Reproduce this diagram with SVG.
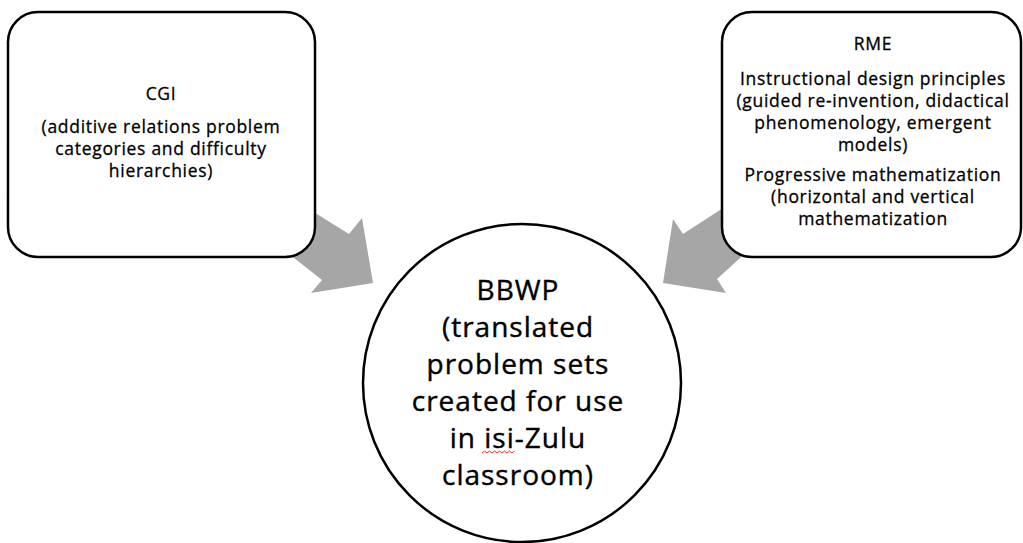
<svg xmlns="http://www.w3.org/2000/svg" width="1023" height="543" viewBox="0 0 1023 543">
  <style>
    .box { fill: #ffffff; stroke: #000000; stroke-width: 2.5; }
    .arrow { fill: #a6a6a6; stroke: none; }
    .txt { font-family: "Open Sans", "Noto Sans", "Liberation Sans", sans-serif; fill: #000000; stroke: #000000; stroke-width: 0.3; text-anchor: middle; }
    .small { font-size: 17.5px; letter-spacing: 0.7px; }
    .big { font-size: 28px; letter-spacing: 1px; stroke-width: 0.4; }
  </style>
  <rect width="1023" height="543" fill="#ffffff"/>

  <!-- block arrows into the central circle -->
  <g id="connectors">
    <polygon class="arrow" points="280,191 349,234 362,218 373,283 311,293 322,280 270,239"/>
    <polygon class="arrow" points="760,184 683,234 673,219 663,283 726,293 717,279 760,240"/>
  </g>

  <!-- CGI -->
  <g id="node-cgi">
    <rect class="box" x="8" y="12" width="307" height="245" rx="30" ry="30"/>
    <text class="txt small" x="161" y="100">CGI</text>
    <text class="txt small" x="161" y="133">(additive relations problem</text>
    <text class="txt small" x="161" y="155">categories and difficulty</text>
    <text class="txt small" x="161" y="177">hierarchies)</text>
  </g>

  <!-- RME -->
  <g id="node-rme">
    <rect class="box" x="722" y="12" width="299" height="245" rx="30" ry="30"/>
    <text class="txt small" x="873" y="50">RME</text>
    <text class="txt small" x="873" y="85">Instructional design principles</text>
    <text class="txt small" x="873" y="107">(guided re-invention, didactical</text>
    <text class="txt small" x="873" y="129">phenomenology, emergent</text>
    <text class="txt small" x="873" y="151">models)</text>
    <text class="txt small" x="873" y="181">Progressive mathematization</text>
    <text class="txt small" x="873" y="203">(horizontal and vertical</text>
    <text class="txt small" x="873" y="225">mathematization</text>
  </g>

  <!-- BBWP -->
  <g id="node-bbwp">
    <circle class="box" cx="522" cy="383" r="159" stroke-width="2.2"/>
    <text class="txt big" x="518" y="300">BBWP</text>
    <text class="txt big" x="518" y="337">(translated</text>
    <text class="txt big" x="518" y="374">problem sets</text>
    <text class="txt big" x="518" y="411">created for use</text>
    <text class="txt big" x="518" y="448">in isi-Zulu</text>
    <text class="txt big" x="518" y="485">classroom)</text>
    <path d="M482,453 l2.5,-2 l2.5,2 l2.5,-2 l2.5,2 l2.5,-2 l2.5,2 l2.5,-2 l2.5,2 l2.5,-2 l2.5,2 l2.5,-2 l2.5,2 l2.5,-2" fill="none" stroke="#e03030" stroke-width="1"/>
  </g>
</svg>
